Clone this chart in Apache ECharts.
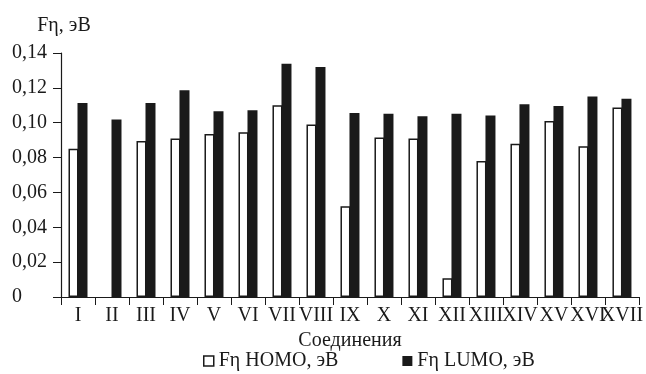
<!DOCTYPE html>
<html><head><meta charset="utf-8">
<script src="https://cdn.jsdelivr.net/npm/echarts@6/dist/echarts.min.js"></script>
<style>html,body{margin:0;padding:0;background:#fff}#c{width:646px;height:374px}</style>
</head><body><div id="c"></div>
<script>
const categories = ['I','II','III','IV','V','VI','VII','VIII','IX','X','XI','XII','XIII','XIV','XV','XVI','XVII'];
const homo = [0.085, null, 0.0895, 0.091, 0.0935, 0.0945, 0.110, 0.099, 0.052, 0.0915, 0.091, 0.0107, 0.078, 0.088, 0.101, 0.0865, 0.1087];
const lumo = [0.1113, 0.1018, 0.1113, 0.1186, 0.1066, 0.1071, 0.1339, 0.132, 0.1056, 0.1052, 0.1037, 0.1052, 0.1041, 0.1106, 0.1096, 0.115, 0.1138];
const yTicks = [0, 0.02, 0.04, 0.06, 0.08, 0.10, 0.12, 0.14];
const seriesNames = ['Fη HOMO, эВ', 'Fη LUMO, эВ'];

const font = 'Liberation Serif';
const fs = 20;
const ink = '#1a1a1a';
const chart = echarts.init(document.getElementById('c'));
chart.setOption({
  animation: false,
  textStyle: {fontFamily: font, color: ink},
  grid: {left: 61, right: 5, top: 53, bottom: 77},
  legend: {
    top: 346, left: 198, itemGap: 64, itemWidth: 10, itemHeight: 10,
    textStyle: {fontFamily: font, fontSize: fs, color: ink},
    data: [
      {name: seriesNames[0], icon: 'rect', itemStyle: {color: '#fff', borderColor: ink, borderWidth: 1.5}},
      {name: seriesNames[1], icon: 'rect', itemStyle: {color: ink}}
    ]
  },
  xAxis: {
    type: 'category', data: categories,
    name: 'Соединения', nameLocation: 'middle', nameGap: 32,
    nameTextStyle: {fontFamily: font, fontSize: fs, color: ink},
    axisLine: {lineStyle: {color: ink, width: 1.2}},
    axisTick: {show: true, length: 8, lineStyle: {color: ink}},
    axisLabel: {fontFamily: font, fontSize: fs, color: ink, margin: 9, interval: 0}
  },
  yAxis: {
    type: 'value', min: 0, max: 0.14, interval: 0.02,
    name: 'Fη, эВ', nameLocation: 'end', nameGap: 17,
    nameTextStyle: {fontFamily: font, fontSize: fs, color: ink, align: 'center', padding: [0, 0, 0, 6]},
    axisLine: {show: true, lineStyle: {color: ink, width: 1.2}},
    axisTick: {show: true, length: 8, lineStyle: {color: ink}},
    splitLine: {show: false},
    axisLabel: {fontFamily: font, fontSize: fs, color: ink, margin: 49, align: 'left',
      formatter: v => { const t = yTicks.find(x => Math.abs(x - v) < 1e-9); return t === 0 ? '0' : t.toFixed(2).replace('.', ','); }}
  },
  series: [
    {name: seriesNames[0], type: 'bar', data: homo, barWidth: 10, barGap: '-10%',
      itemStyle: {color: '#fff', borderColor: ink, borderWidth: 1.5}},
    {name: seriesNames[1], type: 'bar', data: lumo, barWidth: 10,
      itemStyle: {color: ink}}
  ]
});
</script></body></html>
